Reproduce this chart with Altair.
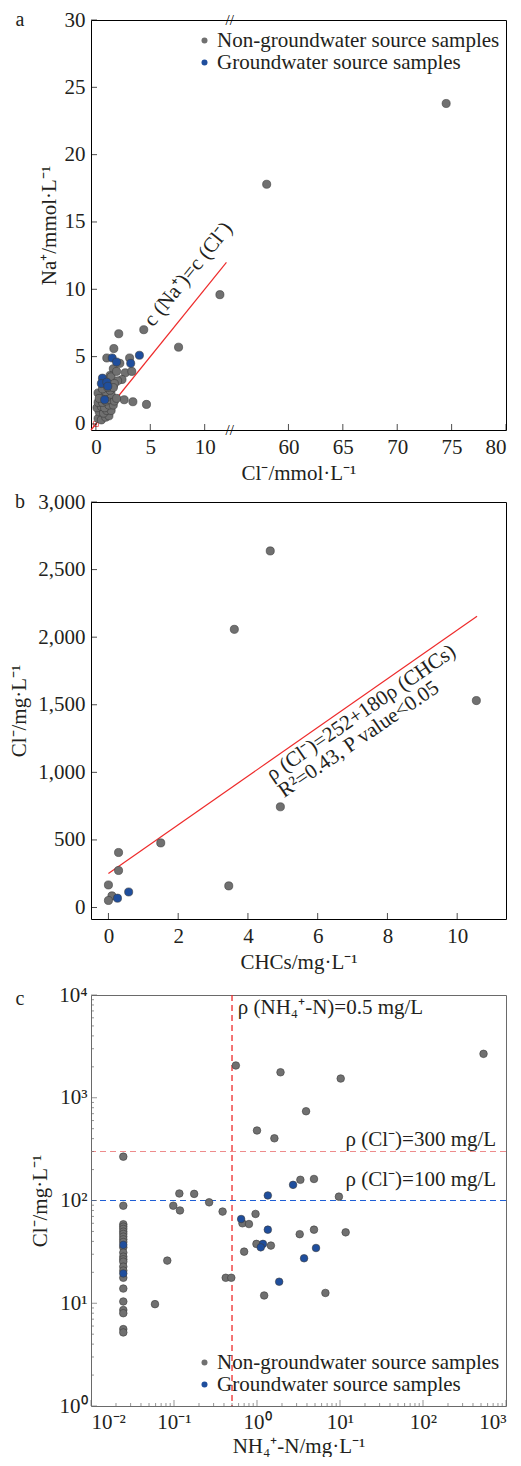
import altair as alt
import pandas as pd

FONT = "Liberation Serif"
FS = 21
TXT = "#231f20"
GREY = "#707070"
BLUE = "#1f4e9d"
EDGE = "#3d3d3d"
RED = "#ee2b2b"
CATS = ["Non-groundwater source samples", "Groundwater source samples"]

# ---------------- panel a data ----------------
a_ngw_x = [74.5, 58.0, 11.4, 4.4, 2.1, 7.6, 1.65, 1.0, 3.1, 2.2, 1.6, 2.7, 3.3, 1.3, 1.4, 2.4,
           1.6, 1.3, 2.6, 3.4, 4.65, 1.9, 2.0, 1.7,
           0.2, 0.5, 0.9, 1.2, 0.3, 0.7, 1.0, 1.4, 0.1, 0.5, 0.8, 1.2, 1.6, 0.2, 0.6, 0.9,
           1.3, 1.7, 0.4, 0.7, 1.0, 1.4, 0.2, 0.9, 1.3, 0.6, 1.1, 1.6, 0.3, 1.9]
a_ngw_y = [23.8, 17.8, 9.6, 7.0, 6.7, 5.7, 5.6, 4.9, 4.9, 4.5, 4.1, 3.8, 3.9, 3.6, 3.5, 3.3,
           2.8, 2.4, 1.8, 1.65, 1.45, 3.9, 3.2, 3.0,
           0.4, 0.3, 0.5, 0.6, 0.9, 0.8, 1.0, 1.0, 1.2, 1.3, 1.2, 1.4, 1.4, 1.6, 1.6, 1.7,
           1.8, 1.7, 2.0, 2.1, 2.0, 2.2, 2.3, 2.4, 2.5, 2.6, 2.7, 2.7, 1.9, 1.9]
a_gw_x = [0.6, 0.5, 1.0, 1.1, 1.5, 1.9, 3.2, 4.0, 0.8]
a_gw_y = [3.4, 3.0, 3.1, 2.8, 4.9, 4.6, 4.5, 5.1, 1.8]
a_eq_x = [-0.45, 12.0]
a_eq_y = [-0.45, 12.0]
a_x_ticks = [0, 5, 10, 60, 65, 70, 75, 80]
a_y_ticks = [0, 5, 10, 15, 20, 25, 30]
A_BREAK_LO, A_BREAK_HI = 12.3, 54.6
A_GAP = A_BREAK_HI - A_BREAK_LO


def brk(v):
    return v if v <= A_BREAK_LO else v - A_GAP


# ---------------- panel b data ----------------
b_ngw_x = [4.64, 3.61, 10.55, 4.93, 1.50, 0.29, 0.29, 0.0, 3.45, 0.1, 0.0]
b_ngw_y = [2638, 2058, 1531, 745, 478, 407, 274, 167, 160, 86, 52]
b_gw_x = [0.58, 0.26]
b_gw_y = [115, 69]
b_fit_x = [0.0, 10.57]
b_fit_y = [252, 2155]
b_x_ticks = [0, 2, 4, 6, 8, 10]
b_y_ticks = [0, 500, 1000, 1500, 2000, 2500, 3000]

# ---------------- panel c data ----------------
c_col_y = [267, 89, 58.7, 55.7, 52.9, 49.8, 47.3, 44.5, 41.9, 39.5, 35, 31.1, 28.4, 26.8,
           25.4, 22.7, 20.8, 17.7, 13.9, 10.4, 8.6, 8.0, 5.6, 5.2]
c_ngw_x = [536, 0.556, 1.92, 10.2, 3.9, 1.0, 1.62, 3.33, 4.86, 9.7, 0.116, 0.175, 0.265,
           0.098, 0.118, 0.385, 0.668, 0.80, 0.96, 4.86, 3.27, 11.7, 0.985, 1.47, 0.70,
           0.083, 0.42, 0.49, 1.22, 6.67, 0.059] + [0.0245] * len(c_col_y)
c_ngw_y = [2675, 2060, 1770, 1538, 739, 480, 403, 159, 162, 109, 117, 116, 96,
           89, 80, 78, 60, 59, 74, 52, 47, 49, 37.8, 36.4, 31.8,
           26, 17.7, 17.7, 11.9, 12.6, 9.8] + c_col_y
c_gw_x = [2.72, 1.35, 0.644, 1.35, 1.18, 1.11, 5.14, 3.69, 1.85, 0.0245, 0.0245]
c_gw_y = [142, 112, 66, 52, 37.8, 35, 34.5, 27.4, 16.2, 37, 19.5]
c_x_major = [0.01, 0.1, 1, 10, 100, 1000]
c_x_labels = ["10⁻²", "10⁻¹", "10⁰", "10¹", "10²", "10³"]
c_y_major = [1, 10, 100, 1000, 10000]
c_y_labels = ["10⁰", "10¹", "10²", "10³", "10⁴"]
c_x_minor = [m * 10.0 ** k for k in range(-2, 3) for m in range(2, 10)]
c_y_minor = [m * 10.0 ** k for k in range(0, 4) for m in range(2, 10)]
c_nh4_limit = [0.5]
c_cl_limits = [300, 100]

W = 415
HA, HB, HC = 410, 417, 411

cscale = alt.Scale(domain=CATS, range=[GREY, BLUE])


def legend(ly):
    return alt.Legend(orient="none", legendX=103, legendY=ly, title=None, labelFont=FONT,
                      labelFontSize=FS, labelColor=TXT, symbolType="circle", symbolSize=36,
                      symbolStrokeWidth=0, labelOffset=2, rowPadding=0, padding=0, labelLimit=500)


def letter(t, yv):
    return alt.Chart(pd.DataFrame({"t": [t]})).mark_text(
        fontSize=FS - 1, font=FONT, color=TXT).encode(x=alt.value(-71), y=alt.value(yv), text="t:N")


def points(df, x, y, ly, size=66):
    return alt.Chart(df).mark_circle(size=size, opacity=1, stroke=EDGE, strokeWidth=0.6).encode(
        x=x, y=y, color=alt.Color("group:N", scale=cscale, legend=legend(ly)))


def groups(n1, n2):
    return [CATS[0]] * n1 + [CATS[1]] * n2


# ================= panel a =================
a_df = pd.DataFrame({"xt": [brk(v) for v in a_ngw_x + a_gw_x], "y": a_ngw_y + a_gw_y,
                     "group": groups(len(a_ngw_x), len(a_gw_x))})
a_xt_ticks = [brk(v) for v in a_x_ticks]
xa = alt.X("xt:Q", scale=alt.Scale(domain=[-0.45, brk(80)], nice=False, zero=False),
           axis=alt.Axis(values=a_xt_ticks,
                         labelExpr=f"'' + round(datum.value > {A_BREAK_LO} ? datum.value + {A_GAP} : datum.value)",
                         title="Cl⁻/mmol·L⁻¹", labelPadding=6, titlePadding=5))
ya = alt.Y("y:Q", scale=alt.Scale(domain=[-0.45, 30], nice=False, zero=False),
           axis=alt.Axis(values=a_y_ticks, title="Na⁺/mmol·L⁻¹", labelPadding=6, titlePadding=5))

pa = alt.layer(
    alt.Chart(pd.DataFrame({"xt": a_eq_x, "y": a_eq_y})).mark_line(color=RED, strokeWidth=1.2).encode(x=xa, y=ya),
    alt.Chart(pd.DataFrame({"xt": [0.0], "y": [0.0]})).mark_square(filled=False, color=RED, size=25, strokeWidth=1).encode(x=xa, y=ya),
    points(a_df, xa, ya, 10),
    alt.Chart(pd.DataFrame({"xt": a_xt_ticks})).mark_tick(orient="vertical", size=6, thickness=1, color="black").encode(x=xa, y=alt.value(HA - 3)),
    alt.Chart(pd.DataFrame({"y": a_y_ticks})).mark_tick(orient="horizontal", size=6, thickness=1, color="black").encode(y=ya, x=alt.value(3)),
    alt.Chart(pd.DataFrame({"xt": [A_BREAK_LO]})).mark_text(text="//", fontSize=15, font=FONT, color="black").encode(x=xa, y=alt.value(0)),
    alt.Chart(pd.DataFrame({"xt": [A_BREAK_LO]})).mark_text(text="//", fontSize=15, font=FONT, color="black").encode(x=xa, y=alt.value(HA)),
    alt.Chart(pd.DataFrame({"xt": [8.5], "y": [11.1], "t": ["c (Na⁺)=c (Cl⁻)"]})).mark_text(
        angle=309, fontSize=FS, font=FONT, color=TXT).encode(x=xa, y=ya, text="t:N"),
    letter("a", 0),
).properties(width=W, height=HA)

# ================= panel b =================
b_df = pd.DataFrame({"x": b_ngw_x + b_gw_x, "y": b_ngw_y + b_gw_y,
                     "group": groups(len(b_ngw_x), len(b_gw_x))})
xb = alt.X("x:Q", scale=alt.Scale(domain=[-0.5, 11.4], nice=False, zero=False),
           axis=alt.Axis(values=b_x_ticks, title="CHCs/mg·L⁻¹", labelPadding=6, titlePadding=5))
yb = alt.Y("y:Q", scale=alt.Scale(domain=[-85, 3000], nice=False, zero=False),
           axis=alt.Axis(values=b_y_ticks, format=",d", title="Cl⁻/mg·L⁻¹", labelPadding=6, titlePadding=8))

pb = alt.layer(
    alt.Chart(pd.DataFrame({"x": b_fit_x, "y": b_fit_y})).mark_line(color=RED, strokeWidth=1.2).encode(x=xb, y=yb),
    points(b_df, xb, yb, 3),
    alt.Chart(pd.DataFrame({"x": b_x_ticks})).mark_tick(orient="vertical", size=6, thickness=1, color="black").encode(x=xb, y=alt.value(HB - 3)),
    alt.Chart(pd.DataFrame({"y": b_y_ticks})).mark_tick(orient="horizontal", size=6, thickness=1, color="black").encode(y=yb, x=alt.value(3)),
    alt.Chart(pd.DataFrame({"x": [4.76, 5.10], "y": [907, 784],
                            "t": ["ρ (Cl⁻)=252+180ρ (CHCs)", "R²=0.43, P value<0.05"]})).mark_text(
        angle=325.5, align="left", baseline="bottom", fontSize=FS, font=FONT, color=TXT).encode(x=xb, y=yb, text="t:N"),
    letter("b", 0),
).properties(width=W, height=HB)


# ================= panel c =================
def sup_expr(vals, labels):
    expr = f"'{labels[-1]}'"
    for v, l in reversed(list(zip(vals[:-1], labels[:-1]))):
        expr = f"datum.value < {v * 3.16} ? '{l}' : " + expr
    return expr


c_df = pd.DataFrame({"x": c_ngw_x + c_gw_x, "y": c_ngw_y + c_gw_y,
                     "group": groups(len(c_ngw_x), len(c_gw_x))})
xc = alt.X("x:Q", scale=alt.Scale(type="log", domain=[0.01, 1000], nice=False),
           axis=alt.Axis(values=c_x_major, labelExpr=sup_expr(c_x_major, c_x_labels),
                         title="NH₄⁺-N/mg·L⁻¹", labelPadding=5, titlePadding=3))
yc = alt.Y("y:Q", scale=alt.Scale(type="log", domain=[1, 10000], nice=False),
           axis=alt.Axis(values=c_y_major, labelExpr=sup_expr(c_y_major, c_y_labels),
                         title="Cl⁻/mg·L⁻¹", labelPadding=4, titlePadding=8))
AX_C = "#6a6a6a"

pc = alt.layer(
    alt.Chart(pd.DataFrame({"x": c_nh4_limit})).mark_rule(color=RED, strokeWidth=1.3, strokeDash=[6, 4]).encode(x=xc),
    alt.Chart(pd.DataFrame({"y": [c_cl_limits[0]]})).mark_rule(color="#ee8c8c", strokeWidth=1.2, strokeDash=[6, 4]).encode(y=yc),
    alt.Chart(pd.DataFrame({"y": [c_cl_limits[1]]})).mark_rule(color="#1f5fd6", strokeWidth=1.2, strokeDash=[6, 4]).encode(y=yc),
    points(c_df, xc, yc, 357, size=58),
    alt.Chart(pd.DataFrame({"x": c_x_major})).mark_tick(orient="vertical", size=6, thickness=1, color=AX_C).encode(x=xc, y=alt.value(HC - 3)),
    alt.Chart(pd.DataFrame({"x": c_x_minor})).mark_tick(orient="vertical", size=3, thickness=1, color=AX_C).encode(x=xc, y=alt.value(HC - 1.5)),
    alt.Chart(pd.DataFrame({"y": c_y_major})).mark_tick(orient="horizontal", size=6, thickness=1, color=AX_C).encode(y=yc, x=alt.value(3)),
    alt.Chart(pd.DataFrame({"y": c_y_minor})).mark_tick(orient="horizontal", size=3, thickness=1, color=AX_C).encode(y=yc, x=alt.value(1.5)),
    alt.Chart(pd.DataFrame({"x": [0.587], "y": [7390], "t": ["ρ (NH₄⁺-N)=0.5 mg/L"]})).mark_text(
        align="left", baseline="middle", fontSize=FS, font=FONT, color=TXT).encode(x=xc, y=yc, text="t:N"),
    alt.Chart(pd.DataFrame({"x": [762, 762], "y": [389, 159],
                            "t": ["ρ (Cl⁻)=300 mg/L", "ρ (Cl⁻)=100 mg/L"]})).mark_text(
        align="right", baseline="middle", fontSize=FS, font=FONT, color=TXT).encode(x=xc, y=yc, text="t:N"),
    letter("c", 4),
).properties(width=W, height=HC, view=alt.ViewBackground(stroke=AX_C))

top_two = alt.vconcat(pa, pb, spacing=6)
chart = alt.vconcat(top_two, pc, spacing=10).resolve_scale(color="independent").properties(
    padding={"left": 0, "top": 0, "right": 0, "bottom": 0}
).configure_axis(
    labelFont=FONT, titleFont=FONT, labelFontSize=FS, titleFontSize=FS, labelColor=TXT,
    titleColor=TXT, titleFontWeight="normal", grid=False, ticks=False, domain=False
).configure_view(stroke="black", strokeWidth=1)

chart.save("out.html", embed_options={"renderer": "svg", "actions": False})
